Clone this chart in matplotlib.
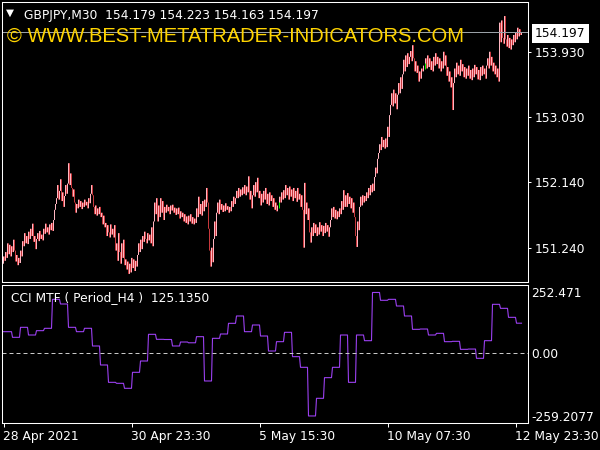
import numpy as np
import matplotlib
matplotlib.use("Agg")
import matplotlib.pyplot as plt
from matplotlib import transforms

# GBPJPY M30 closes, one per bar (28 Apr 07:30 .. 13 May 02:30)
first_open = 151.02
closes = [
    151.12, 151.06, 151.18, 151.10, 151.30, 151.15, 151.28, 151.12, 151.26, 151.18,
    151.35, 151.20, 151.05, 151.14, 151.00, 151.10, 151.03, 151.20, 151.12, 151.33,
    151.26, 151.44, 151.30, 151.40, 151.29, 151.46, 151.36, 151.50, 151.40, 151.57,
    151.32, 151.40, 151.22, 151.36, 151.44, 151.33, 151.47, 151.36, 151.42, 151.34,
    151.50, 151.43, 151.57, 151.45, 151.52, 151.42, 151.56, 151.48, 151.58, 151.47,
    151.62, 151.76, 151.84, 151.92, 152.10, 151.90, 152.02, 152.18, 151.88, 152.00,
    151.80, 151.95, 152.10, 151.98, 152.12, 152.40, 152.10, 152.26, 152.06, 151.94,
    152.04, 151.86, 151.72, 151.84, 151.78, 151.90, 151.80, 151.88, 151.77, 151.86,
    151.80, 151.90, 151.82, 151.87, 151.78, 151.92, 151.85, 151.98, 152.10, 151.96,
    151.80, 151.70, 151.82, 151.68, 151.78, 151.70, 151.80, 151.66, 151.72, 151.56,
    151.68, 151.52, 151.58, 151.40, 151.55, 151.45, 151.38, 151.56, 151.42, 151.50,
    151.38, 151.55, 151.20, 151.30, 151.06, 151.44, 151.18, 151.02, 151.30, 151.10,
    151.35, 151.00, 151.08, 150.94, 151.05, 150.88, 151.02, 150.90, 151.10, 150.96,
    151.08, 150.92, 151.06, 150.98, 151.14, 151.30, 151.18, 151.35, 151.22, 151.40,
    151.32, 151.46, 151.36, 151.30, 151.44, 151.34, 151.42, 151.30, 151.52, 151.26,
    151.60, 151.86, 151.70, 151.92, 151.60, 151.82, 151.66, 151.92, 151.72, 151.88,
    151.62, 151.80, 151.72, 151.83, 151.74, 151.80, 151.70, 151.82, 151.75, 151.83,
    151.72, 151.79, 151.69, 151.78, 151.70, 151.79, 151.64, 151.74, 151.66, 151.72,
    151.60, 151.70, 151.58, 151.67, 151.56, 151.68, 151.60, 151.70, 151.57, 151.66,
    151.56, 151.64, 151.58, 151.78, 151.66, 151.94, 151.70, 151.84, 151.68, 151.88,
    151.74, 151.90, 151.80, 152.06, 151.86, 151.50, 151.20, 150.98, 151.24, 151.04,
    151.36, 151.60, 151.40, 151.72, 151.86, 151.70, 151.90, 151.76, 151.84, 151.73,
    151.82, 151.74, 151.85, 151.76, 151.81, 151.72, 151.80, 151.74, 151.88, 151.80,
    151.94, 151.84, 151.92, 152.02, 151.92, 152.06, 151.94, 152.04, 151.96, 152.07,
    151.98, 152.10, 151.96, 152.08, 152.00, 152.22, 151.90, 152.02, 151.78, 151.96,
    152.10, 151.94, 152.14, 152.00, 152.20, 151.92, 152.02, 151.82, 151.98, 151.86,
    152.02, 151.90, 152.06, 151.84, 151.98, 151.82, 152.00, 151.88, 151.96, 151.80,
    151.92, 151.76, 151.86, 151.74, 151.82, 151.82, 151.94, 151.86, 152.00, 151.90,
    152.03, 151.92, 152.10, 151.96, 152.06, 151.90, 152.08, 151.94, 152.04, 151.88,
    152.06, 151.92, 152.02, 151.87, 152.06, 151.90, 151.98, 151.80, 151.96, 151.76,
    151.24, 152.13, 151.70, 151.86, 151.62, 151.78, 151.45, 151.31, 151.52, 151.40,
    151.58, 151.44, 151.56, 151.40, 151.52, 151.42, 151.59, 151.46, 151.55, 151.40,
    151.54, 151.44, 151.58, 151.46, 151.55, 151.39, 151.52, 151.62, 151.78, 151.66,
    151.80, 151.64, 151.76, 151.63, 151.74, 151.66, 151.78, 151.70, 151.88, 151.76,
    152.03, 151.80, 151.96, 151.80, 151.99, 151.84, 151.94, 151.78, 151.92, 151.72,
    151.86, 151.66, 151.40, 151.25, 151.60, 151.48, 151.80, 151.94, 151.82, 151.96,
    151.86, 151.95, 151.88, 152.00, 151.92, 152.06, 151.96, 152.10, 152.00, 152.12,
    152.02, 152.21, 152.34, 152.26, 152.46, 152.54, 152.66, 152.58, 152.76, 152.62,
    152.72, 152.60, 152.74, 152.62, 152.90, 152.76, 153.06, 153.20, 153.36, 153.18,
    153.41, 153.22, 153.36, 153.14, 153.34, 153.50, 153.36, 153.58, 153.42, 153.62,
    153.82, 153.66, 153.88, 153.72, 153.91, 153.76, 153.86, 153.94, 153.80, 154.02,
    153.84, 153.66, 153.80, 153.64, 153.74, 153.52, 153.66, 153.56, 153.70, 153.66,
    153.74, 153.74, 153.84, 153.70, 153.88, 153.72, 153.84, 153.68, 153.80, 153.66,
    153.86, 153.74, 153.91, 153.76, 153.86, 153.70, 153.84, 153.66, 153.80, 153.70,
    153.93, 153.74, 153.88, 153.60, 153.72, 153.52, 153.66, 153.44, 153.58, 153.13,
    153.50, 153.70, 153.58, 153.78, 153.62, 153.74, 153.60, 153.82, 153.66, 153.76,
    153.58, 153.72, 153.56, 153.70, 153.60, 153.74, 153.56, 153.68, 153.54, 153.70,
    153.58, 153.75, 153.62, 153.72, 153.55, 153.68, 153.54, 153.72, 153.60, 153.74,
    153.62, 153.70, 153.56, 153.74, 153.84, 153.70, 153.93, 153.74, 153.86, 153.66,
    153.78, 153.62, 153.74, 153.58, 153.70, 153.52, 154.33, 154.06, 154.36, 154.12,
    154.04, 154.42, 154.10, 154.00, 154.16, 153.98, 154.12, 153.96, 154.10, 154.02,
    154.16, 154.06, 154.20, 154.10, 154.26, 154.14, 154.24, 154.16, 154.197,
]

# CCI MTF (H4) values, one per H4 block; first entry is the partial block of bar 0
cci_h4 = [
    90.0, 90.0, 66.6, 108.0, 76.2, 94.2, 103.9, 224.0, 204.7, 108.0,
    90.0, 104.0, 30.7, -48.0, -119.9, -124.0, -144.7, -78.4, -31.5, 79.0,
    58.3, 57.6, 30.7, 47.2, 44.0, 69.3, -114.3, 62.4, 80.4, 124.6,
    155.0, 90.0, 117.7, 72.1, 9.9, 48.6, 87.3, -13.5, -57.7, -259.2077,
    -186.1, -100.5, -57.7, 76.2, -119.9, 76.2, 52.7, 252.471, 220.0, 224.0,
    196.4, 155.0, 99.7, 101.0, 76.2, 83.1, 48.6, 50.0, 16.8, 18.0,
    -20.4, 52.7, 203.3, 186.7, 149.4, 125.135,
]
bars_per_h4 = 8

time_labels = ["28 Apr 2021", "30 Apr 23:30", "5 May 15:30", "10 May 07:30", "12 May 23:30"]
time_label_bars = [0, 128, 256, 384, 512]
price_ticks = [151.240, 152.140, 153.030, 153.930]
cci_ticks = [-259.2077, 0.0, 252.471]
cci_tick_labels = ["-259.2077", "0.00", "252.471"]
last_price = 154.197
header = "GBPJPY,M30  154.179 154.223 154.163 154.197"
cci_header = "CCI MTF ( Period_H4 )  125.1350"
watermark = "\u00a9 WWW.BEST-METATRADER-INDICATORS.COM"

W, H = 600, 450
FS = 8.8
PX = 72 / 100  # one pixel in points
fig = plt.figure(figsize=(6, 4.5), dpi=100, facecolor="black")


def px_box(l, t, r, b):
    # pixel box (from top-left) -> figure fraction rect
    return [l / W, 1 - b / H, (r - l) / W, (b - t) / H]


ax = fig.add_axes(px_box(2, 2, 528, 282), facecolor="black")
ax2 = fig.add_axes(px_box(2, 285, 528, 423), facecolor="black")

# candles: one pixel per bar, line from open to close
closes = np.array(closes)
opens = np.concatenate([[first_open], closes[:-1]])
x = np.arange(len(closes))
flat = closes == opens
bar_colors = np.where(closes > opens, "#FFB6C1", "#C8383C")
ax.vlines(x[~flat], np.minimum(opens, closes)[~flat], np.maximum(opens, closes)[~flat],
          colors=bar_colors[~flat], lw=PX, antialiased=True, snap=False)
ax.plot(x[flat], closes[flat], "|", color="#00FF00", ms=5, mew=PX)

ax.axhline(last_price, color="#9AA0A6", lw=PX)

ax.set_xlim(-1.5, 524.5)
ax.set_ylim(150.769, 154.613)
ax.set_xticks([])
ax.yaxis.tick_right()
ax.set_yticks(price_ticks, labels=[f"{v:.3f}" for v in price_ticks])
ax.tick_params(axis="y", colors="white", length=2.2, width=PX, pad=2.9, labelsize=FS)

# current price box
trans = transforms.blended_transform_factory(ax.transAxes, ax.transData)
ax.annotate(f"{last_price:.3f}", xy=(1, last_price), xycoords=trans,
            xytext=(7, 0), textcoords="offset pixels", ha="left", va="center_baseline",
            fontsize=FS, color="black", annotation_clip=False,
            bbox=dict(boxstyle="square,pad=0.25", fc="white", ec="none"))

# CCI sub window (H4 values held over their M30 bars)
n = len(closes)
counts = [1] + [bars_per_h4] * (len(cci_h4) - 2)
counts.append(n - sum(counts))
cci = np.repeat(cci_h4, counts)
ax2.plot(x, cci, color="#9B40F0", lw=0.8)
ax2.axhline(0, color="#C8C8C8", lw=PX, dashes=(4, 3))

ax2.set_xlim(-1.5, 524.5)
ax2.set_ylim(-288.4, 283.4)
ax2.yaxis.tick_right()
ax2.set_yticks(cci_ticks, labels=cci_tick_labels)
ax2.tick_params(axis="y", colors="white", length=0, pad=2.6, labelsize=FS)
ax2.set_xticks(time_label_bars, labels=[""] * len(time_label_bars))
ax2.tick_params(axis="x", colors="white", length=3, width=PX)

ttrans = transforms.blended_transform_factory(ax2.transData, fig.transFigure)
for b, lab in zip(time_label_bars, time_labels):
    ax2.text(b - 0.5, 1 - 440 / H, lab, transform=ttrans, ha="left", va="baseline",
             color="white", fontsize=FS, clip_on=False)

for a in (ax, ax2):
    for s in a.spines.values():
        s.set_color("white")
        s.set_linewidth(0.75)

# header texts
fig.text(6 / W, 1 - 13 / H, "\u25bc", color="white", fontsize=7.5, va="center", ha="left")
fig.text(24 / W, 1 - 18.5 / H, header, color="white", fontsize=FS, va="baseline", ha="left")
fig.text(7 / W, 1 - 42 / H, watermark, color="#FFD400", fontsize=14.5,
         family="Liberation Sans", va="baseline", ha="left")
fig.text(11 / W, 1 - 301 / H, cci_header, color="white", fontsize=FS, va="baseline", ha="left")

fig.savefig("out.png", dpi=100, facecolor="black")
